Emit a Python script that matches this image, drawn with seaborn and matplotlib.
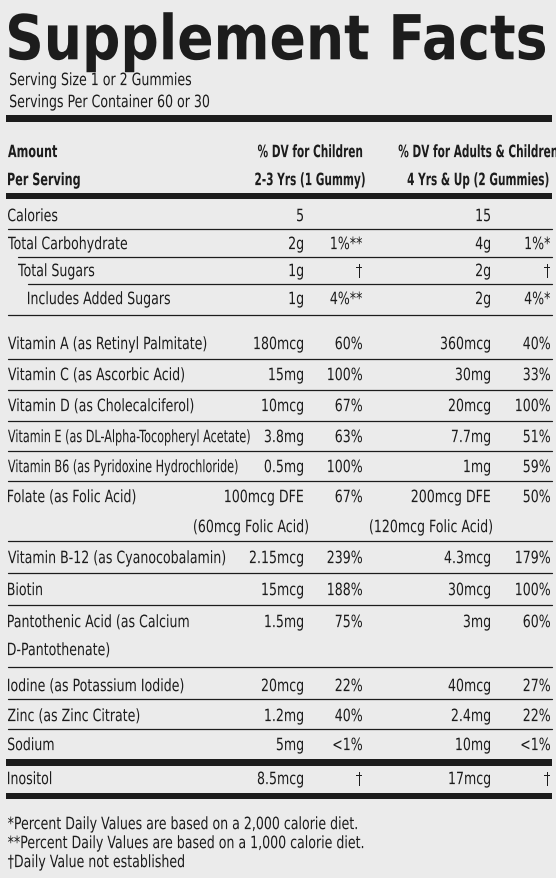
import matplotlib.pyplot as plt
import seaborn as sns
from matplotlib.font_manager import FontProperties
from matplotlib.textpath import TextPath
from matplotlib.patches import PathPatch
from matplotlib.transforms import Affine2D

sns.set_theme(style="white")
plt.rcParams['font.family'] = ['DejaVu Sans']

# label rows: nutrient, child amount, child %DV, adult amount, adult %DV, indent level, second line
nutrients = ["Calories", "Total Carbohydrate", "Total Sugars", "Includes Added Sugars",
             "Vitamin A (as Retinyl Palmitate)", "Vitamin C (as Ascorbic Acid)",
             "Vitamin D (as Cholecalciferol)", "Vitamin E (as DL-Alpha-Tocopheryl Acetate)",
             "Vitamin B6 (as Pyridoxine Hydrochloride)", "Folate (as Folic Acid)",
             "Vitamin B-12 (as Cyanocobalamin)", "Biotin", "Pantothenic Acid (as Calcium",
             "Iodine (as Potassium Iodide)", "Zinc (as Zinc Citrate)", "Sodium", "Inositol"]
second_line = ["", "", "", "", "", "", "", "", "", "", "", "", "D-Pantothenate)", "", "", "", ""]
child_amt = ["5", "2g", "1g", "1g", "180mcg", "15mg", "10mcg", "3.8mg", "0.5mg", "100mcg DFE",
             "2.15mcg", "15mcg", "1.5mg", "20mcg", "1.2mg", "5mg", "8.5mcg"]
child_amt2 = ["", "", "", "", "", "", "", "", "", "(60mcg Folic Acid)", "", "", "", "", "", "", ""]
child_dv = ["", "1%**", "†", "4%**", "60%", "100%", "67%", "63%", "100%", "67%",
            "239%", "188%", "75%", "22%", "40%", "<1%", "†"]
adult_amt = ["15", "4g", "2g", "2g", "360mcg", "30mg", "20mcg", "7.7mg", "1mg", "200mcg DFE",
             "4.3mcg", "30mcg", "3mg", "40mcg", "2.4mg", "10mg", "17mcg"]
adult_amt2 = ["", "", "", "", "", "", "", "", "", "(120mcg Folic Acid)", "", "", "", "", "", "", ""]
adult_dv = ["", "1%*", "†", "4%*", "40%", "33%", "100%", "51%", "59%", "50%",
            "179%", "100%", "60%", "27%", "22%", "<1%", "†"]
indent = [0, 0, 1, 2, 0, 0, 0, 0, 0, 0, 0, 0, 0, 0, 0, 0, 0]
row_y = [216, 244, 271, 299, 344, 375, 406, 437, 467, 497, 558, 590, 622, 686, 716, 745, 779]
row_bottom = [230, 258, 285, 316, 360, 391, 422, 452, 482, 542, 574, 606, 668, 700, 730, 760, 796]

footnotes = ["*Percent Daily Values are based on a 2,000 calorie diet.",
             "**Percent Daily Values are based on a 1,000 calorie diet.",
             "†Daily Value not established"]

W, H = 556, 879
fig = plt.figure(figsize=(W / 100, H / 100), dpi=100)
fig.patch.set_facecolor("#ebebeb")
ax = fig.add_axes([0, 0, 1, 1])
ax.set_xlim(0, W)
ax.set_ylim(H, 0)
ax.axis("off")
ink = "#1c1c1c"


def label(x, y, s, px=17, ha="left", bold=False, sx=0.74, width=None):
    # condensed text drawn as a path, since no narrow font is installed
    prop = FontProperties(family="DejaVu Sans", weight="bold" if bold else "normal")
    tp = TextPath((0, 0), s, size=px, prop=prop)
    ext = tp.get_extents()
    if width is not None:
        sx = width / ext.width
    w = ext.width * sx
    if ha == "left":
        x0 = x - ext.x0 * sx
    elif ha == "right":
        x0 = x - ext.x1 * sx
    else:
        x0 = x - (ext.x0 * sx + w / 2)
    tr = Affine2D().scale(sx, -1).translate(x0, y + 0.36 * px)
    ax.add_patch(PathPatch(tr.transform_path(tp), color=ink, lw=0))


label(9, 38, "Supplement Facts", px=62, bold=True, width=536)
label(10, 80, "Serving Size 1 or 2 Gummies")
label(10, 102, "Servings Per Container 60 or 30")
ax.fill_between([6, 552], 116, 123, color=ink, lw=0)

label(8, 152, "Amount", bold=True, sx=0.66)
label(8, 180, "Per Serving", bold=True, sx=0.66)
label(310, 152, "% DV for Children", bold=True, ha="center", sx=0.62)
label(310, 180, "2-3 Yrs (1 Gummy)", bold=True, ha="center", sx=0.62)
label(478, 152, "% DV for Adults & Children", bold=True, ha="center", sx=0.62)
label(478, 180, "4 Yrs & Up (2 Gummies)", bold=True, ha="center", sx=0.62)
ax.fill_between([6, 552], 194, 200, color=ink, lw=0)

for i, name in enumerate(nutrients):
    y = row_y[i]
    label(8 + 10 * indent[i], y, name, sx=0.66 if len(name) > 33 else 0.74)
    if second_line[i]:
        label(8, y + 28, second_line[i])
    label(303, y, child_amt[i], ha="right")
    if child_dv[i]:
        label(362, y, child_dv[i], ha="right")
    label(490, y, adult_amt[i], ha="right")
    if adult_dv[i]:
        label(550, y, adult_dv[i], ha="right")
    if child_amt2[i]:
        label(308, y + 30, child_amt2[i], ha="right")
        label(492, y + 30, adult_amt2[i], ha="right")
    b = row_bottom[i]
    if name == "Sodium":
        ax.fill_between([6, 552], b, b + 7, color=ink, lw=0)
    elif name == "Inositol":
        ax.fill_between([6, 552], b - 2, b + 4, color=ink, lw=0)
    else:
        x0 = 8 + 10 * indent[i + 1] if i + 1 < len(indent) else 8
        ax.plot([x0, 552], [b, b], color=ink, lw=0.9)

for j, note in enumerate(footnotes):
    label(8, 824 + 19 * j, note)

fig.savefig("out.png", dpi=100, facecolor=fig.get_facecolor())
